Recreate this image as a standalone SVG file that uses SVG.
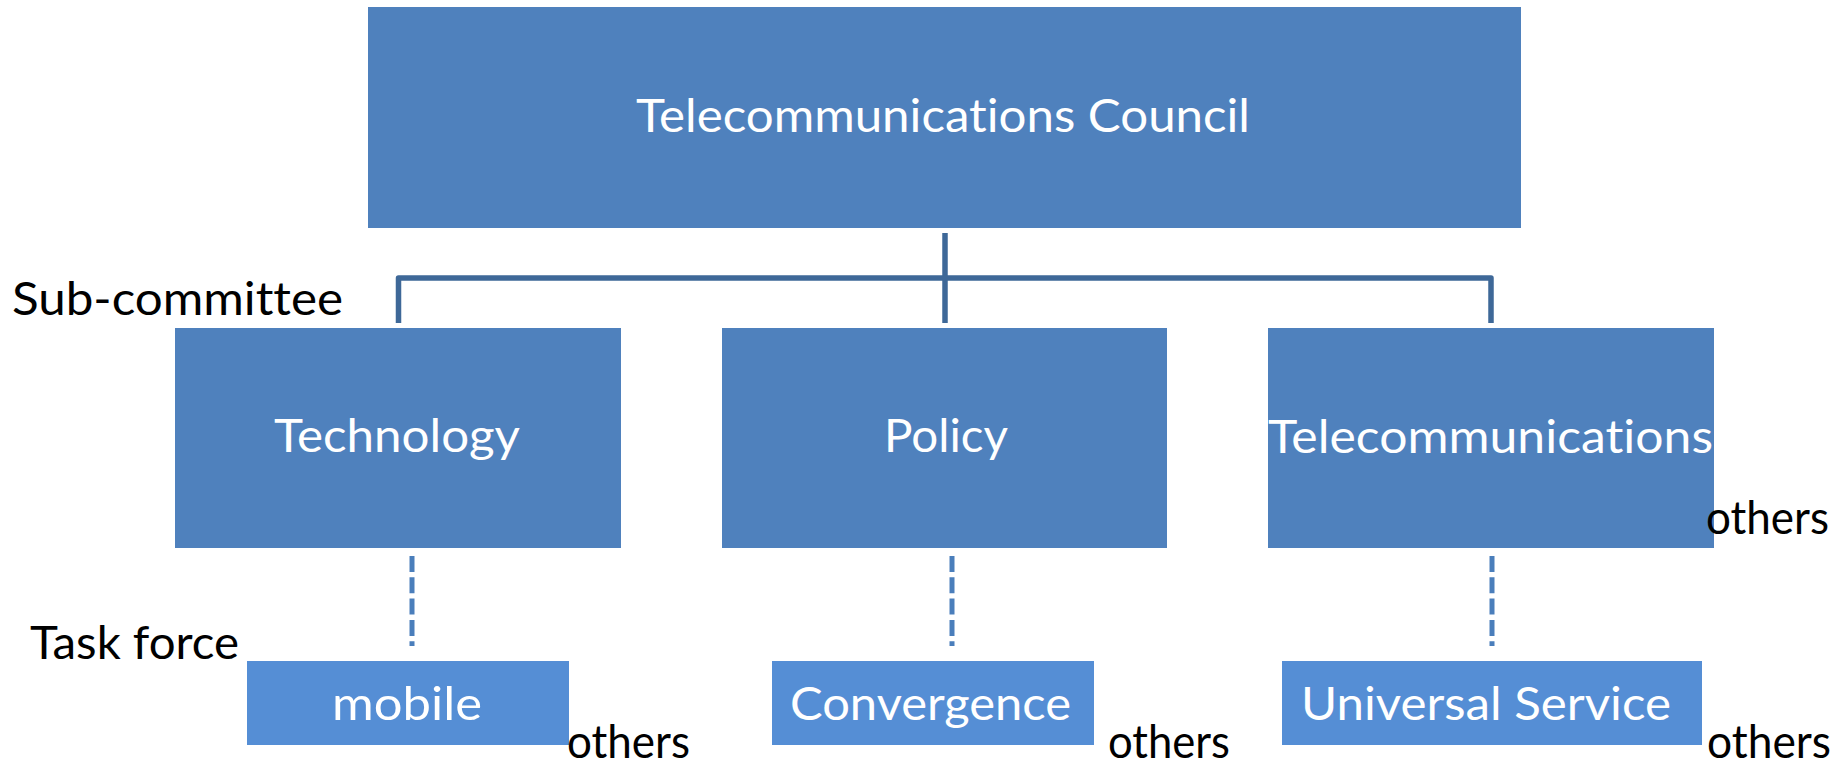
<svg xmlns="http://www.w3.org/2000/svg" width="1837" height="762" viewBox="0 0 1837 762">
<style>
.box{fill:#4F81BD;}
.tbox{fill:#558ED5;}
text{font-variant-ligatures:none;font-feature-settings:"liga" 0,"clig" 0;}
.wt{font-family:Lato,"Open Sans",sans-serif;fill:#FFFFFF;font-size:46px;}
.bt{font-family:Lato,"Open Sans",sans-serif;fill:#000000;font-size:46px;}
.solid{fill:none;stroke:#3E6898;stroke-width:5.5;stroke-linejoin:round;}
.dash{fill:none;stroke:#4A7EBB;stroke-width:5;stroke-dasharray:16 5.3;}
</style>
<rect width="1837" height="762" fill="#FFFFFF"/>
<g id="connectors">
<line class="solid" x1="945" y1="233" x2="945" y2="323"/>
<path class="solid" d="M398.5 323 V278 H1491 V323"/>
<line class="dash" x1="412" y1="556" x2="412" y2="646"/>
<line class="dash" x1="952" y1="556" x2="952" y2="646"/>
<line class="dash" x1="1492" y1="556" x2="1492" y2="646"/>
</g>
<g id="council">
<rect class="box" x="368" y="7" width="1153" height="221"/>
<text class="wt" x="636" y="132" font-size="44" textLength="614" lengthAdjust="spacingAndGlyphs">Telecommunications Council</text>
</g>
<g id="label-subcommittee">
<text class="bt" x="12" y="315" textLength="331" lengthAdjust="spacingAndGlyphs">Sub-committee</text>
</g>
<g id="technology">
<rect class="box" x="175" y="328" width="446" height="220"/>
<text class="wt" x="274" y="452" textLength="246" lengthAdjust="spacingAndGlyphs">Technology</text>
</g>
<g id="policy">
<rect class="box" x="722" y="328" width="445" height="220"/>
<text class="wt" x="884" y="452" textLength="124" lengthAdjust="spacingAndGlyphs">Policy</text>
</g>
<g id="telecommunications">
<rect class="box" x="1268" y="328" width="446" height="220"/>
<text class="wt" x="1268" y="453" textLength="445" lengthAdjust="spacingAndGlyphs">Telecommunications</text>
<text class="bt" x="1706" y="534" textLength="123" lengthAdjust="spacingAndGlyphs">others</text>
</g>
<g id="label-taskforce">
<text class="bt" x="30" y="659" textLength="209" lengthAdjust="spacingAndGlyphs">Task force</text>
</g>
<g id="mobile">
<rect class="tbox" x="247" y="661" width="322" height="84"/>
<text class="wt" x="332" y="720" textLength="150" lengthAdjust="spacingAndGlyphs">mobile</text>
<text class="bt" x="567" y="758" textLength="123" lengthAdjust="spacingAndGlyphs">others</text>
</g>
<g id="convergence">
<rect class="tbox" x="772" y="661" width="322" height="84"/>
<text class="wt" x="790" y="720" textLength="281" lengthAdjust="spacingAndGlyphs">Convergence</text>
<text class="bt" x="1108" y="758" textLength="122" lengthAdjust="spacingAndGlyphs">others</text>
</g>
<g id="universal">
<rect class="tbox" x="1282" y="661" width="420" height="84"/>
<text class="wt" x="1301" y="720" textLength="370" lengthAdjust="spacingAndGlyphs">Universal Service</text>
<text class="bt" x="1707" y="758" textLength="124" lengthAdjust="spacingAndGlyphs">others</text>
</g>
</svg>
